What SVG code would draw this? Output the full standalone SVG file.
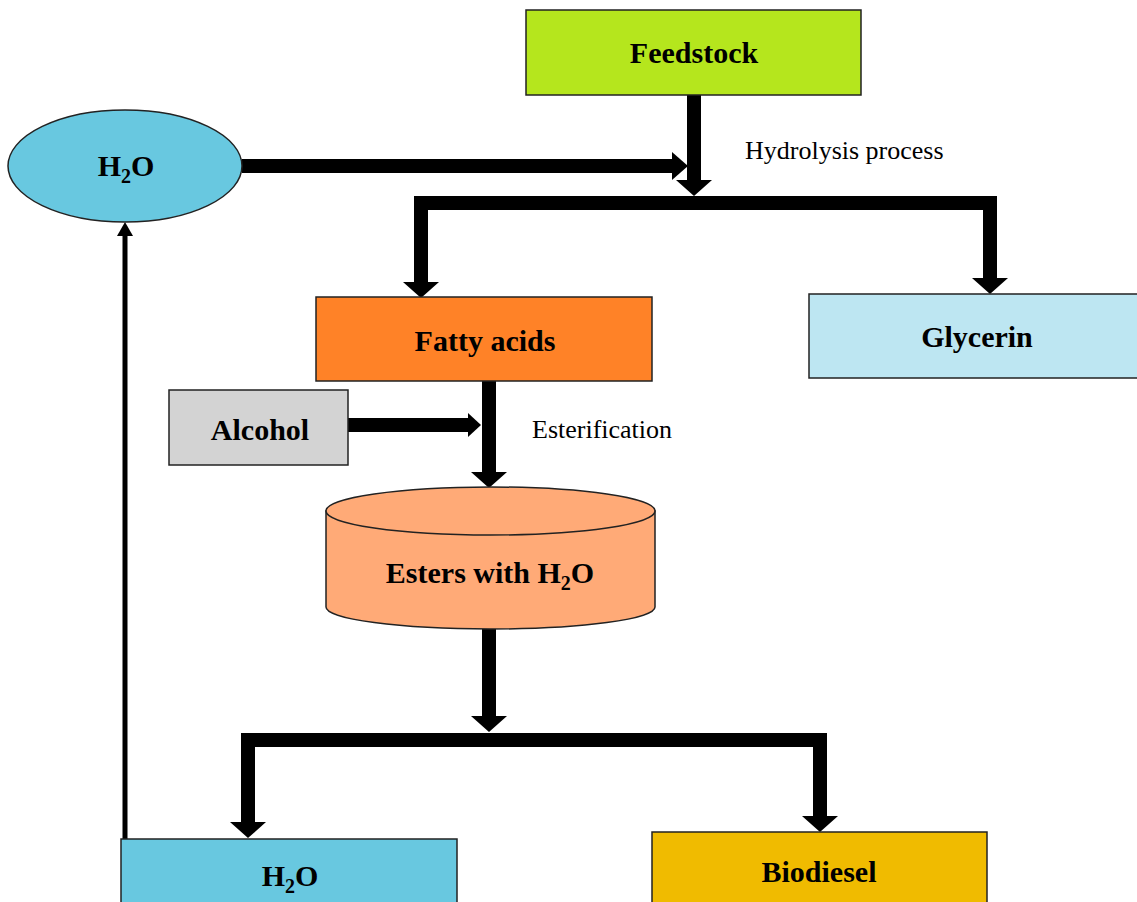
<svg xmlns="http://www.w3.org/2000/svg" width="1137" height="902" viewBox="0 0 1137 902">
<style>
.box{stroke:#222;stroke-width:1.5}
.lbl{font-family:"Liberation Serif","Times New Roman",serif;font-weight:bold;font-size:30px;fill:#000;text-anchor:middle}
.note{font-family:"Liberation Serif","Times New Roman",serif;font-size:26px;fill:#000}
.sub{font-size:20px}
.bar{fill:none;stroke:#000;stroke-width:14;stroke-linejoin:miter}
.head{fill:#000}
</style>
<rect width="1137" height="902" fill="#fff"/>
<g id="connectors">
<rect x="687" y="95" width="14" height="86" class="head"/>
<polygon points="676,180 712,180 694,196" class="head"/>
<rect x="242" y="159" width="431" height="14" class="head"/>
<polygon points="672,152 672,180 688,166" class="head"/>
<path d="M421 283 V203 H990 V279" class="bar"/>
<polygon points="403,282 439,282 421,298" class="head"/>
<polygon points="972,278 1008,278 990,294" class="head"/>
<rect x="482" y="381" width="14" height="92" class="head"/>
<polygon points="471,472 507,472 489,488" class="head"/>
<rect x="348" y="418" width="121" height="14" class="head"/>
<polygon points="468,413 468,437 481,425" class="head"/>
<rect x="482" y="629" width="14" height="88" class="head"/>
<polygon points="471,716 507,716 489,732" class="head"/>
<path d="M248 823 V740 H820 V817" class="bar"/>
<polygon points="230,822 266,822 248,838" class="head"/>
<polygon points="802,816 838,816 820,832" class="head"/>
<line x1="125" y1="839" x2="125" y2="234" stroke="#000" stroke-width="5"/>
<polygon points="117,236 133,236 125,222" class="head"/>
</g>
<g id="feedstock">
<rect x="526" y="10" width="335" height="85" fill="#b5e61d" class="box"/>
<text x="694" y="63" class="lbl">Feedstock</text>
</g>
<text x="745" y="159" class="note">Hydrolysis process</text>
<g id="h2o-top">
<ellipse cx="125" cy="166" rx="117" ry="56" fill="#68c8e0" class="box"/>
<text x="126" y="176" class="lbl">H<tspan class="sub" dy="7">2</tspan><tspan dy="-7">O</tspan></text>
</g>
<g id="fatty-acids">
<rect x="316" y="297" width="336" height="84" fill="#ff8227" class="box"/>
<text x="485" y="351" class="lbl">Fatty acids</text>
</g>
<g id="glycerin">
<rect x="809" y="294" width="330" height="84" fill="#bde6f2" class="box"/>
<text x="977" y="347" class="lbl">Glycerin</text>
</g>
<g id="alcohol">
<rect x="169" y="390" width="179" height="75" fill="#d3d3d3" class="box"/>
<text x="260" y="440" class="lbl">Alcohol</text>
</g>
<text x="532" y="438" class="note">Esterification</text>
<g id="esters">
<path d="M326 511 V607 A164.5 22 0 0 0 655 607 V511 Z" fill="#ffaa77" class="box"/>
<ellipse cx="490.5" cy="511" rx="164.5" ry="24" fill="#ffaa77" class="box"/>
<text x="490" y="583" class="lbl">Esters with H<tspan class="sub" dy="7">2</tspan><tspan dy="-7">O</tspan></text>
</g>
<g id="h2o-bottom">
<rect x="121" y="839" width="336" height="70" fill="#68c8e0" class="box"/>
<text x="290" y="886" class="lbl">H<tspan class="sub" dy="7">2</tspan><tspan dy="-7">O</tspan></text>
</g>
<g id="biodiesel">
<rect x="652" y="832" width="335" height="77" fill="#f0bb00" class="box"/>
<text x="819" y="882" class="lbl">Biodiesel</text>
</g>
</svg>
